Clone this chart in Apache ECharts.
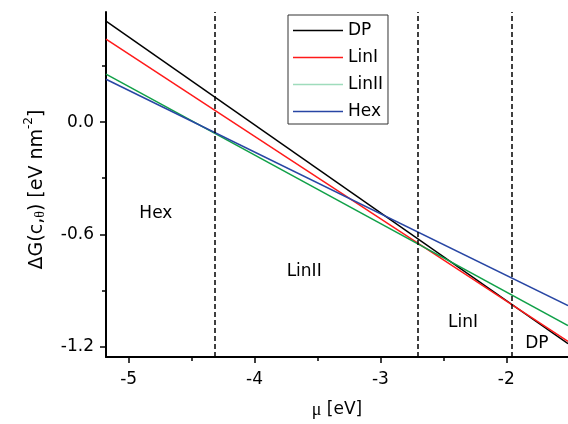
<!DOCTYPE html>
<html>
<head>
<meta charset="utf-8">
<script src="https://cdn.jsdelivr.net/npm/echarts@6/dist/echarts.min.js"></script>
<style>
  html, body { margin: 0; padding: 0; background: #fff; }
  #chart { width: 568px; height: 424px; }
</style>
</head>
<body>
<div id="chart"></div>
<script>
// Chemical potential sampled at the two ends of the plotted range
const mu = [-5.18, -1.51];

// Free-energy difference of each phase (eV nm^-2)
const dpValues = [0.541, -1.186];
const linIValues = [0.445, -1.173];
const linIIValues = [0.257, -1.089];
const hexValues = [0.230, -0.982];

// Phase boundaries (eV)
const boundaries = [-4.322, -2.698, -1.957];

// Phase region labels
const regionNames = ['Hex', 'LinII', 'LinI', 'DP'];
const regionMu = [-4.784, -3.606, -2.344, -1.757];
const regionG = [-0.488, -0.798, -1.073, -1.183];

// Tick positions
const xMajorTicks = [-5, -4, -3, -2];
const xMinorTicks = [-4.5, -3.5, -2.5];
const yMajorTicks = [0, -0.6, -1.2];
const yMinorTicks = [0.3, -0.3, -0.9];

const X_MIN = -5.18, X_MAX = -1.51;
const Y_MIN = -1.257, Y_MAX = 0.59;

const FONT = 'DejaVu Sans';

function pairs(xs, ys) { return xs.map((x, i) => [x, ys[i]]); }

const chart = echarts.init(document.getElementById('chart'), null, { renderer: 'canvas' });

const lineSeries = (name, values, color) => ({
  name, type: 'line', data: pairs(mu, values),
  symbol: 'none', silent: true,
  lineStyle: { color, width: 1.5 },
  itemStyle: { color },
  z: 3
});

chart.setOption({
  animation: false,
  backgroundColor: '#ffffff',
  grid: { left: 106, top: 12, right: 0, bottom: 67, outerBoundsMode: 'none', containLabel: false },
  legend: {
    left: 288, top: 15,
    orient: 'vertical',
    borderColor: '#333', borderWidth: 1,
    padding: [7, 5, 4, 5],
    icon: 'rect',
    itemWidth: 50, itemHeight: 1.5, itemGap: 10,
    textStyle: { fontFamily: FONT, fontSize: 17, color: '#000' },
    data: [
      { name: 'DP' },
      { name: 'LinI' },
      { name: 'LinII', itemStyle: { color: '#9fdcbc' } },
      { name: 'Hex' }
    ],
    selectedMode: false
  },
  xAxis: [
    {
      type: 'value', min: X_MIN, max: X_MAX, position: 'bottom',
      name: '{m|μ} [eV]', nameLocation: 'middle', nameGap: 44,
      nameTextStyle: {
        fontFamily: FONT, fontSize: 17, color: '#000',
        rich: { m: { fontFamily: 'Liberation Serif', fontSize: 18, color: '#000' } }
      },
      axisLine: { onZero: false, lineStyle: { color: '#000', width: 2 } },
      axisTick: { show: true, inside: false, length: 6, lineStyle: { color: '#000', width: 1.5 }, customValues: xMajorTicks },
      axisLabel: { fontFamily: FONT, fontSize: 17, color: '#000', margin: 14, customValues: xMajorTicks },
      splitLine: { show: false }
    },
    {
      type: 'value', min: X_MIN, max: X_MAX, position: 'bottom',
      axisLine: { show: false, onZero: false },
      axisTick: { show: true, inside: false, length: 4, lineStyle: { color: '#000', width: 1.5 }, customValues: xMinorTicks },
      axisLabel: { show: false },
      splitLine: { show: false }
    }
  ],
  yAxis: [
    {
      type: 'value', min: Y_MIN, max: Y_MAX, position: 'left',
      name: '{n|ΔG(c,}{t|θ}{n|) [eV nm}{s|-2}{n|]}',
      nameLocation: 'middle', nameRotate: 90, nameGap: 59,
      nameTextStyle: {
        fontFamily: FONT, fontSize: 19, color: '#000',
        padding: [0, 10, 0, 0],
        rich: {
          n: { fontFamily: FONT, fontSize: 19, color: '#000', lineHeight: 24, verticalAlign: 'bottom' },
          t: { fontFamily: 'Liberation Serif', fontSize: 14, color: '#000', lineHeight: 24, verticalAlign: 'bottom' },
          s: { fontFamily: FONT, fontSize: 12, color: '#000', lineHeight: 24, verticalAlign: 'top' }
        }
      },
      axisLine: { onZero: false, lineStyle: { color: '#000', width: 2 } },
      axisTick: { show: true, inside: false, length: 6, lineStyle: { color: '#000', width: 1.5 }, customValues: yMajorTicks },
      axisLabel: {
        fontFamily: FONT, fontSize: 17, color: '#000', margin: 12,
        customValues: yMajorTicks,
        formatter: v => v.toFixed(1)
      },
      splitLine: { show: false }
    },
    {
      type: 'value', min: Y_MIN, max: Y_MAX, position: 'left',
      axisLine: { show: false, onZero: false },
      axisTick: { show: true, inside: false, length: 4, lineStyle: { color: '#000', width: 1.5 }, customValues: yMinorTicks },
      axisLabel: { show: false },
      splitLine: { show: false }
    }
  ],
  series: [
    lineSeries('DP', dpValues, '#000000'),
    lineSeries('LinI', linIValues, '#ff1a1a'),
    lineSeries('LinII', linIIValues, '#10a048'),
    lineSeries('Hex', hexValues, '#2846a4'),
    {
      // Phase boundaries
      type: 'line', data: [], silent: true,
      markLine: {
        silent: true, symbol: 'none', animation: false,
        label: { show: false },
        lineStyle: { color: '#000', width: 1.5, type: [5, 3] },
        data: boundaries.map(b => ({ xAxis: b }))
      }
    },
    {
      // Phase region labels
      type: 'scatter', silent: true,
      data: regionNames.map((n, i) => ({ name: n, value: [regionMu[i], regionG[i]] })),
      symbolSize: 1,
      itemStyle: { color: 'transparent', opacity: 1 },
      label: {
        show: true, position: [0.5, 0.5], align: 'center', verticalAlign: 'middle',
        formatter: p => p.name,
        fontFamily: FONT, fontSize: 17, color: '#000',
        textBorderWidth: 0
      },
      labelLayout: { hideOverlap: false },
      z: 4
    }
  ]
});
</script>
</body>
</html>
